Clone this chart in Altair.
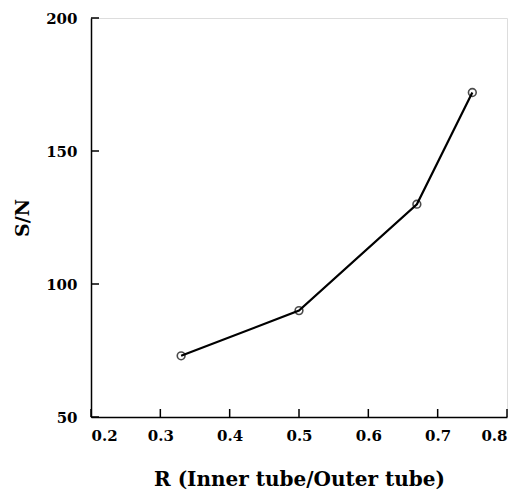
import altair as alt
import pandas as pd

ratio = [0.33, 0.50, 0.67, 0.75]
sn = [73, 90, 130, 172]
x_ticks = [0.2, 0.3, 0.4, 0.5, 0.6, 0.7, 0.8]
y_ticks = [50, 100, 150, 200]

W, H = 416, 399
FONT = "DejaVu Serif"

df = pd.DataFrame({"R": ratio, "SN": sn})
xt = pd.DataFrame({"t": x_ticks})
yt = pd.DataFrame({"t": y_ticks})

xscale = alt.Scale(domain=[0.2, 0.8], nice=False, zero=False)
yscale = alt.Scale(domain=[50, 200], nice=False, zero=False)

xaxis = alt.Axis(values=x_ticks, format=".1f", ticks=False, grid=False,
                 labelFont=FONT, labelFontWeight="bold", labelFontSize=15,
                 labelColor="black", labelPadding=11, domainColor="black",
                 domainWidth=1.5, title="R (Inner tube/Outer tube)",
                 titleFont=FONT, titleFontWeight="bold", titleFontSize=20,
                 titleColor="black", titlePadding=26)
yaxis = alt.Axis(values=y_ticks, ticks=False, grid=False,
                 labelFont=FONT, labelFontWeight="bold", labelFontSize=15,
                 labelColor="black", labelPadding=14, domainColor="black",
                 domainWidth=1.5, title="S/N",
                 titleFont=FONT, titleFontWeight="bold", titleFontSize=19,
                 titleColor="black", titleAngle=-90, titleX=-69, titleY=H / 2,
                 titleAlign="center", titleBaseline="middle")

line = alt.Chart(df).mark_line(color="black", strokeWidth=2.2).encode(
    x=alt.X("R:Q", scale=xscale, axis=xaxis),
    y=alt.Y("SN:Q", scale=yscale, axis=yaxis),
)
pts = alt.Chart(df).mark_point(shape="circle", size=60, filled=False,
                               color="black", strokeWidth=1.6).encode(
    x=alt.X("R:Q", scale=xscale),
    y=alt.Y("SN:Q", scale=yscale),
)
xtk = alt.Chart(xt).mark_rule(color="black", strokeWidth=1.5).encode(
    x=alt.X("t:Q", scale=xscale),
    y=alt.value(H), y2=alt.value(H - 8),
)
ytk = alt.Chart(yt).mark_rule(color="black", strokeWidth=1.5).encode(
    y=alt.Y("t:Q", scale=yscale),
    x=alt.value(0), x2=alt.value(8),
)

chart = alt.layer(xtk, ytk, line, pts).properties(
    width=W, height=H,
    autosize=alt.AutoSizeParams(type="none"),
    padding={"left": 91, "top": 18, "right": 21, "bottom": 74},
).configure_view(stroke=None).configure(background="white")

chart.save("out.html", embed_options={"renderer": "svg", "actions": False})
